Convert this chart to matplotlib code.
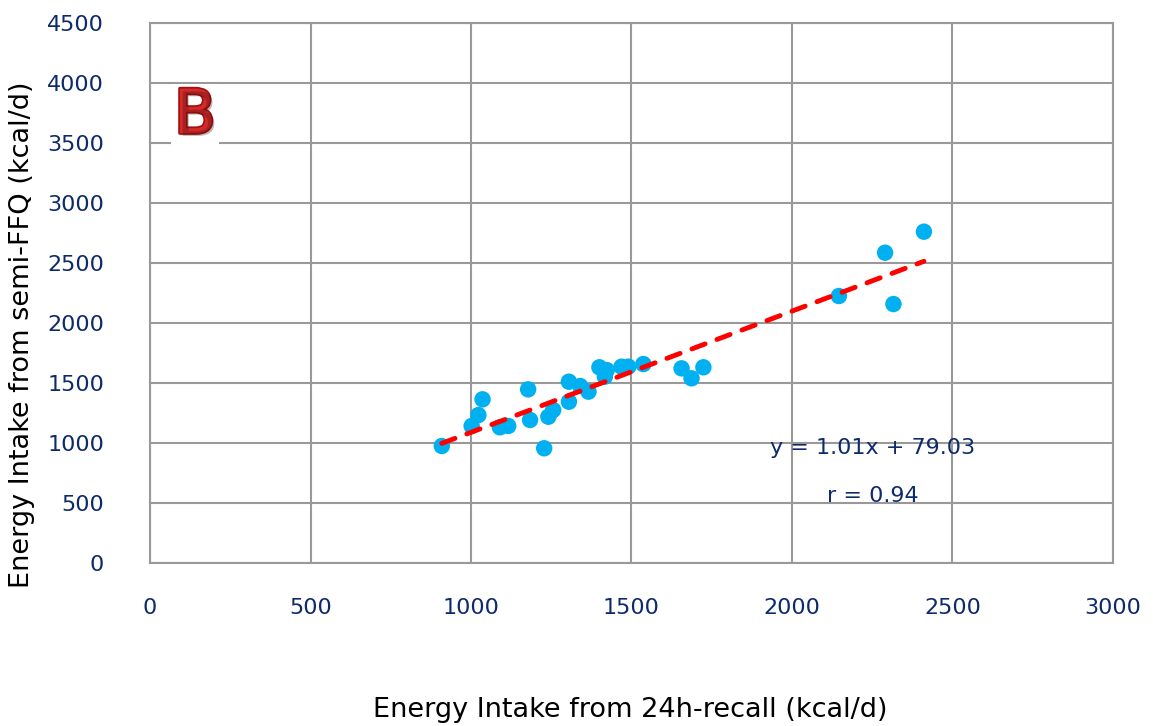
import matplotlib.pyplot as plt
import matplotlib.patheffects as pe
import numpy as np

# energy intake, 24h-recall (x) vs semi-FFQ (y), kcal/d
recall = [909, 1002, 1023, 1036, 1090, 1116, 1178, 1184, 1228, 1241, 1256,
          1305, 1305, 1340, 1366, 1400, 1417, 1423, 1469, 1490, 1537,
          1656, 1687, 1724, 2146, 2290, 2316, 2411]
ffq = [975, 1142, 1233, 1364, 1131, 1142, 1447, 1192, 956, 1219, 1275,
       1344, 1511, 1475, 1428, 1631, 1553, 1608, 1636, 1636, 1658,
       1622, 1539, 1631, 2225, 2586, 2158, 2761]

slope = 1.01
intercept = 79.03
r_value = 0.94

xticks = [0, 500, 1000, 1500, 2000, 2500, 3000]
yticks = [0, 500, 1000, 1500, 2000, 2500, 3000, 3500, 4000, 4500]

navy = '#0d2a6b'

fig = plt.figure(figsize=(11.53, 7.26), dpi=100)
ax = fig.add_axes([0.1301, 0.2245, 0.9653 - 0.1301, 0.9683 - 0.2245])

ax.set_xlim(0, 3000)
ax.set_ylim(0, 4500)
ax.set_xticks(xticks)
ax.set_yticks(yticks)
ax.grid(True, color='#999999', linewidth=1.5)
ax.set_axisbelow(True)
for s in ax.spines.values():
    s.set_color('#999999')
    s.set_linewidth(1.5)
ax.tick_params(length=0, labelsize=16, labelcolor=navy)
ax.tick_params(axis='x', pad=25)
ax.tick_params(axis='y', pad=33)

ax.scatter(recall, ffq, s=140, color='#00b0f0', edgecolors='none', zorder=3)

# trend line
xl = np.array([min(recall), max(recall)])
ax.plot(xl, slope * xl + intercept, color='#ff0000', linewidth=3.5,
        linestyle=(0, (2.9, 2.6)), dash_capstyle='round', zorder=4)

ax.text(2252, 958, 'y = %.2fx + %.2f' % (slope, intercept), color=navy,
        fontsize=16, ha='center', va='center')
ax.text(2252, 558, 'r = %.2f' % r_value, color=navy,
        fontsize=16, ha='center', va='center')

ax.text(140, 3720, 'B', color='#d42a2a', fontsize=44, ha='center', va='center',
        bbox=dict(facecolor='white', edgecolor='none', pad=2),
        path_effects=[pe.withStroke(linewidth=2.5, foreground='#a01010'),
                      pe.SimplePatchShadow(offset=(2, -2), alpha=0.3)])

fig.text(630 / 1153, 1 - 710 / 726, 'Energy Intake from 24h-recall (kcal/d)',
         fontsize=19.5, ha='center', va='center', color='black')
fig.text(22 / 1153, 1 - 335 / 726, 'Energy Intake from semi-FFQ (kcal/d)',
         fontsize=19.5, ha='center', va='center', rotation=90, color='black')

plt.savefig('out.png', dpi=100)
